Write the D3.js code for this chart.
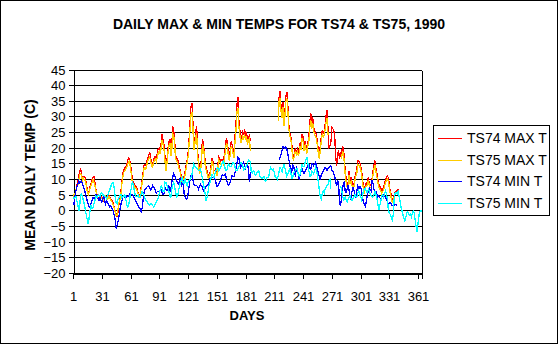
<!DOCTYPE html>
<html>
<head>
<meta charset="utf-8">
<script src="https://cdn.jsdelivr.net/npm/d3@7"></script>
<style>
  html, body { margin: 0; padding: 0; background: #fff; }
  svg { display: block; font-family: "Liberation Sans", Arial, sans-serif; }
</style>
</head>
<body>
<svg id="chart" width="559" height="345"></svg>
<script>
// Day of year, 1..365
const dayNumbers = d3.range(1, 366);
const tickDays = [1, 31, 61, 91, 121, 151, 181, 211, 241, 271, 301, 331, 361];
const yTicks = [-20, -15, -10, -5, 0, 5, 10, 15, 20, 25, 30, 35, 40, 45];

const seriesNames = ["TS74 MAX T", "TS75 MAX T", "TS74 MIN T", "TS75 MIN T"];
const seriesColors = ["#ff0000", "#ffcc00", "#0000ff", "#00ffff"];

// Daily maximum, station TS74 (deg C); null = no record
const ts74Max = [
  4.8, 4.5, 5.5, 6.1, 8.2, 8.9, 10.8, 12.7, 13.3, 11.4,
  10.1, 10.6, 10.8, 10.1, 8.4, 6.3, 5.5, 6.3, 7.9, 8.9,
  10.1, 10.7, 10.8, 8.7, 6.5, 5.0, 4.2, 3.6, 4.4, 4.7,
  4.2, 3.6, 3.1, 4.2, 4.7, 4.0, 3.8, 5.0, 4.6, 3.8,
  3.3, 3.0, 2.2, 1.1, -0.2, -1.1, -2.1, -0.4, 2.0, 3.8,
  5.8, 9.5, 11.7, 12.9, 13.7, 13.8, 14.6, 15.9, 16.8, 16.5,
  14.6, 12.5, 9.5, 9.0, 8.2, 7.9, 7.7, 6.5, 5.7, 5.0,
  4.2, 7.4, 9.5, 11.9, 14.3, 14.6, 14.4, 15.7, 16.8, 17.5,
  18.6, 16.8, 15.1, 14.5, 16.1, 17.2, 17.2, 16.6, 18.6, 19.7,
  19.9, 19.1, 21.8, 24.3, 22.4, 20.8, 16.8, 13.6, 16.0, 19.7,
  21.8, 22.9, 18.6, 20.2, 26.8, 25.6, 22.4, 17.5, 16.8, 16.5,
  15.1, 13.8, 12.7, 10.6, 9.7, 10.4, 10.8, 12.5, 14.3, 16.1,
  18.1, 22.4, 27.7, 33.0, 34.4, 28.8, 20.4, 22.4, 25.0, 26.8,
  18.6, 15.4, 12.9, 13.2, 17.0, 22.9, 21.1, 18.6, 15.1, 13.6,
  12.5, 11.2, 10.8, 12.2, 14.3, 16.8, 15.5, 12.7, 12.7, 13.2,
  11.9, 14.3, 17.0, 16.4, 15.9, 16.2, 16.1, 15.6, 18.1, 20.2,
  23.2, 21.8, 18.8, 16.8, 19.1, 21.8, 21.1, 19.4, 17.9, 24.0,
  27.7, 33.6, 36.3, 28.8, 25.6, 22.6, 23.6, 25.0, 24.0, 26.0,
  23.4, 25.0, 22.1, 23.4, 24.0, 22.0,
  null, null, null, null, null, null, null, null, null, null,
  null, null, null, null, null, null, null, null, null, null,
  null, null, null, null, null, null, null, null,
  29.8, 36.3, 38.2, 33.0, 30.9, 34.7, 28.2, 31.4, 36.3, 37.9,
  34.1, 27.7, 25.0, 24.0, 22.1, 17.9, 17.0, 18.6, 20.0, 18.6,
  19.6, 18.3, 19.7, 21.8, 20.4, 24.5, 23.4, 20.0, 22.1, 20.7,
  19.1, 21.8, 23.6, 28.2, 31.1, 27.7, 29.8, 26.6, 25.6, 24.9,
  24.0, 21.5, 19.1, 17.5, 21.1, 23.6, 25.6, 24.7, 25.4, 27.7,
  30.4, 32.0, 25.8, 20.2, 20.6, 21.8, 26.4, 26.1, 25.6, 23.6,
  17.0, 14.3, 18.1, 19.1, 16.4, 18.1, 17.5, 20.2, 19.9, 16.4,
  12.2, 10.1, 8.4, 9.0, 12.7, 9.7, 10.4, 9.0, 7.9, 8.4,
  10.4, 12.1, 12.9, 15.9, 15.7, 15.4, 14.3, 12.7, 10.1, 7.4,
  6.7, 8.4, 8.4, 9.3, 10.6, 8.7, 8.1, 8.2, 10.4, 12.7,
  14.6, 15.9, 13.3, 11.7, 10.1, 8.4, 7.7, 7.2, 6.3, 6.9,
  7.4, 8.7, 9.7, 10.8, 11.0, 10.4, 7.8, 6.1, 4.8, 3.3,
  3.8, 5.0, 5.7, 6.0, 6.3, 6.6, 6.8,
  null, null, null, null, null, null, null, null, null, null,
  null, null, null, null, null, null, null, null, null, null,
  null, null, null, null
];

// Daily maximum, station TS75 (deg C)
const ts75Max = [
  4.2, 5.0, 5.0, 6.5, 7.5, 8.0, 9.6, 11.5, 11.8, 11.0,
  9.5, 10.2, 9.8, 9.5, 7.6, 6.0, 5.0, 6.0, 7.4, 8.2,
  9.2, 9.8, 9.0, 7.8, 6.2, 4.6, 4.0, 3.4, 3.8, 4.2,
  4.0, 3.2, 3.4, 3.8, 4.4, 3.6, 3.5, 4.4, 4.2, 3.4,
  3.0, 2.5, 1.8, 0.6, -0.5, -1.6, -1.5, 0.4, 2.6, 3.4,
  5.2, 8.4, 10.6, 12.2, 12.6, 13.2, 13.6, 14.8, 15.4, 15.8,
  13.4, 11.0, 8.6, 8.4, 7.6, 7.2, 7.0, 6.0, 5.2, 4.6,
  4.8, 6.8, 8.6, 11.0, 13.2, 13.8, 13.2, 14.6, 15.6, 16.4,
  17.0, 15.8, 14.0, 13.8, 15.2, 16.0, 16.4, 15.6, 17.2, 18.4,
  18.8, 18.0, 20.2, 22.6, 21.0, 19.2, 15.6, 12.6, 15.0, 18.4,
  20.4, 21.6, 17.4, 19.0, 24.6, 24.0, 21.0, 16.4, 15.8, 15.4,
  14.0, 12.8, 12.0, 9.8, 9.0, 9.6, 10.2, 11.6, 13.4, 15.2,
  17.0, 21.0, 25.4, 30.6, 31.2, 27.0, 19.2, 21.0, 23.6, 24.6,
  17.4, 14.4, 12.0, 12.4, 16.0, 21.2, 20.0, 17.6, 14.0, 12.6,
  11.6, 10.4, 10.0, 11.4, 13.4, 15.6, 14.6, 11.8, 11.6, 12.4,
  11.0, 13.2, 16.0, 15.4, 14.8, 15.0, 15.2, 14.6, 17.0, 19.0,
  21.6, 20.4, 17.6, 15.8, 18.0, 20.4, 19.8, 18.2, 16.8, 22.0,
  25.6, 31.4, 32.6, 27.0, 24.2, 21.4, 22.4, 23.6, 22.8, 24.4,
  22.4, 23.6, 21.0, 22.2, 22.8, 19.0,
  null, null, null, null, null, null, null, null, null, null,
  null, null, null, null, null, null, null, null, null, null,
  null, null, null, null, null, null, null, null,
  28.4, 34.8, 36.0, 31.6, 29.6, 33.0, 27.0, 30.0, 34.6, 35.8,
  32.4, 26.4, 24.0, 22.8, 21.0, 17.0, 16.2, 17.6, 19.0, 17.8,
  18.6, 17.4, 18.6, 20.6, 19.4, 23.0, 22.0, 19.0, 21.0, 19.6,
  18.2, 20.6, 22.2, 26.4, 28.8, 26.0, 28.0, 25.2, 24.2, 23.6,
  22.8, 20.4, 18.0, 16.4, 19.8, 22.2, 24.2, 23.4, 24.0, 26.0,
  28.0, 29.6, 24.2,
  null, null, null, null, null, null, null, null, null, null,
  null, null, null,
  16.4, 18.6, 18.4, 15.2, 11.0, 9.0, 7.4, 8.0, 11.4, 8.6,
  9.4, 8.0, 7.0, 7.6, 9.4, 11.0, 11.8, 14.6, 14.4, 14.2,
  13.2, 11.6, 9.0, 6.4, 5.8, 7.4, 7.6, 8.2, 9.6, 7.8,
  7.2, 7.4, 9.4, 11.6, 13.4, 14.6, 12.2, 10.6, 9.0, 7.4,
  6.8, 6.2, 5.4, 6.0, 6.6, 7.8, 8.8, 9.8, 10.0, 9.4,
  7.0, 5.2, 3.8, 2.6, 3.2, 4.4,
  null, null, null, null, null, null, null, null, null, null,
  null, null, null, null, null, null, null, null, null, null,
  null, null, null, null, null, null, null, null, null
];

// Daily minimum, station TS74 (deg C)
const ts74Min = [
  2.0, 2.0, 4.4, 6.1, 7.4, 8.2, 9.5, 8.7, 9.0, 9.4,
  8.2, 7.4, 6.5, 5.2, 4.0, 2.8, 1.9, 1.1, 1.5, 2.3,
  3.4, 4.2, 3.6, 4.2, 5.2, 4.8, 3.8, 3.1, 4.2, 3.4,
  2.7, 3.6, 4.4, 3.1, 2.0, 2.9, 2.7, 1.9, 1.1, 1.5,
  1.1, 0.4, -0.3, -1.6, -3.0, -5.6, -4.9, -3.5, -1.9, 0.4,
  2.0, 3.1, 4.2, 4.5, 4.2, 3.8, 4.6, 4.4, 4.5, 5.2,
  4.8, 5.0, 5.1, 4.4, 3.8, 3.4, 2.7, 1.9, 1.3, 1.0,
  0.5, -0.5, 0.5, 3.1, 5.5, 6.5, 6.9, 7.4, 7.7, 7.8,
  7.4, 6.5, 6.8, 7.9, 7.5, 6.9, 6.3, 5.5, 6.1, 6.1,
  5.9, 6.7, 6.5, 5.5, 5.0, 5.5, 7.2, 6.8, 6.3, 7.4,
  7.9, 6.1, 6.3, 9.0, 10.6, 11.7, 11.0, 10.4, 9.3, 8.9,
  8.4, 9.5, 10.6, 7.6, 8.7, 9.1, 5.2, 4.2, 3.6, 3.8,
  5.2, 7.4, 9.7, 11.0, 11.7, 10.1, 8.4, 8.1, 7.9, 7.9,
  7.6, 6.8, 7.7, 8.4, 7.8, 7.3, 6.3, 5.9, 7.4, 7.6,
  7.9, 8.2, 9.1, 10.4, 10.6, 10.6, 10.6, 10.5, 9.8, 9.0,
  7.7, 7.8, 8.4, 9.1, 9.7, 11.0, 11.4, 11.2, 11.3, 11.7,
  10.1, 8.8, 8.1, 8.4, 8.9, 10.1, 11.2, 10.8, 10.8, 12.2,
  13.6, 15.1, 17.0, 16.6, 15.4, 13.8, 14.2, 14.7, 15.3, 14.2,
  13.4, 14.7, 14.9, 12.9, 9.0, 12.2,
  null, null, null, null, null, null, null, null, null, null,
  null, null, null, null, null, null, null, null, null, null,
  null, null, null, null, null, null, null, null, null,
  16.2, 16.8, 17.9, 19.1, 20.4, 20.2, 19.7, 20.2, 19.6, 18.1,
  16.4, 14.9, 12.9, 11.9, 14.5, 14.3, 12.7, 10.8, 13.8, 13.3,
  11.4, 9.7, 11.7, 12.7, 13.2, 12.5, 11.7, 12.4, 12.9, 13.8,
  14.2, 14.9, 13.5, 13.2, 14.9, 14.9, 14.3, 14.9, 15.3, 14.3,
  13.2, 11.9, 10.6, 10.1, 11.4, 12.1, 12.7, 13.0, 13.7, 13.4,
  12.7, 13.4, 13.8, 14.0, 14.2, 12.9, 12.4, 11.7, 10.8, 9.3,
  7.7, 9.7, 8.7, 2.3, 1.5, 3.7, 6.5, 8.7, 9.0, 5.8,
  5.8, 6.8, 8.2, 6.1, 4.2, 3.4, 6.1, 7.2, 6.5, 5.2,
  4.4, 6.1, 7.7, 6.9, 7.6, 7.4, 6.1, 4.0, 2.6, 1.9,
  1.3, 3.1, 5.0, 6.3, 7.2, 6.5, 6.1, 9.7, 8.4, 6.5,
  5.5, 6.1, 5.0, 4.3, 4.6, 4.0, 3.8, 4.2, 4.6, 5.0,
  4.8, 4.2, 3.4, 2.7, 2.0, 2.3, 2.5, 1.9, 1.6, 1.6,
  1.7, 2.0, 1.9, 1.6,
  null, null, null, null, null, null, null, null, null, null,
  null, null, null, null, null, null, null, null, null, null,
  null, null, null, null, null, null
];

// Daily minimum, station TS75 (deg C)
const ts75Min = [
  4.2, 3.8, 4.2, 4.4, 3.1, 1.9, -0.3, 1.6, 5.0, 5.2,
  4.2, 2.9, 1.8, 0.0, -1.7, -3.2, -4.4, -1.9, 0.2, 1.8,
  0.6, 0.9, 2.3, 3.4, 4.6, 4.2, 4.6, 5.0, 4.4, 5.2,
  5.5, 4.8, 5.0, 4.6, 4.2, 3.8, 4.6, 5.5, 6.3, 7.2,
  8.1, 8.9, 8.9, 7.2, 4.2, 2.3, 2.0, 3.5, 4.0, 4.7,
  5.0, 4.0, 4.2, 4.8, 5.0, 3.6, 1.9, 1.1, 1.6, 3.2,
  5.9, 7.4, 9.3, 7.9, 6.3, 4.8, 4.4, 4.6, 5.0, 4.0,
  4.2, 5.0, 6.1, 5.5, 4.7, 4.0, 3.2, 2.8, 2.4, 1.9,
  1.7, 2.3, 2.3, 1.6, 1.1, 1.5, 2.3, 2.8, 3.4, 4.2,
  5.5, 6.5, 7.8, 7.4, 5.9, 6.1, 9.0, 8.9, 7.9, 7.2,
  6.1, 4.4, 4.2, 6.8, 8.0, 8.9, 7.4, 6.1, 4.2, 4.4,
  6.1, 7.6, 9.0, 9.9, 10.4, 8.7, 8.7, 9.9, 8.9, 7.9,
  8.9, 9.5, 9.9, 10.4, 11.4, 13.2, 14.9, 14.2, 13.7, 13.4,
  13.0, 12.7, 13.0, 13.2, 11.7, 10.2, 8.4, 6.8, 4.8, 2.9,
  4.4, 6.3, 8.2, 9.1, 10.4, 11.5, 11.0, 10.6, 11.7, 12.5,
  13.4, 13.6, 12.7, 13.2, 13.8, 14.7, 15.5, 15.8, 14.3, 12.7,
  12.7, 13.2, 14.9, 14.7, 14.0, 14.2, 14.9, 15.2, 15.1, 13.8,
  12.7, 12.7, 13.2, 13.8, 14.7, 15.3, 15.0, 14.2, 12.9, 13.2,
  13.8, 14.5, 14.9, 16.2, 16.0, 15.4, 12.2, 12.0, 12.6, 12.3,
  11.2, 11.5, 12.0, 12.6, 12.3, 10.9, 10.4, 10.1, 10.6, 10.9,
  9.5, 9.3, 10.4, 10.6, 10.6, 12.3, 13.8, 13.2, 12.8, 13.2,
  12.1, 10.6, 10.4, 9.9, 11.0, 12.4, 13.6, 13.2, 12.3, 13.8,
  14.7, 13.6, 12.1, 10.9, 11.5, 12.3, 13.2, 12.7, 10.1, 10.1,
  12.0, 12.4, 12.7, 13.4, 13.3, 11.3, 10.9, 11.7, 13.3, 14.7,
  14.1, 14.0, 15.1, 16.4, 16.8, 15.1, 12.7, 11.0, 10.8, 12.5,
  12.2, 11.7, 12.7, 13.8, 13.0, 10.8, 9.0, 6.3, 4.2, 3.6,
  5.5, 6.1, 5.5, 6.8, 7.4, 7.9, 8.4, 9.5, 9.9, 6.8,
  null, null, null, null, null, null, null, null, null,
  7.9, 6.8, 5.2, 3.4, 3.7, 4.2, 3.1, 2.7, 3.5, 4.2,
  4.7, 3.8, 3.1, 3.9, 4.4, 5.0, 4.6, 4.2, 5.5, 6.3,
  5.2, 4.4, 3.4, 4.7, 6.3, 6.9, 7.2, 5.9, 5.8, 6.7,
  6.1, 5.2, 4.6, 4.2, 4.6, 5.0, 6.1, 5.0, 3.7, 2.0,
  0.2, 1.6, 3.0, 4.6, 4.9, 4.2, 5.5, 6.2, 5.2, 3.2,
  0.0, -0.9, -1.3, -2.4, -3.0, -1.3, 3.7, 5.5, 5.8, 5.2,
  6.1, 4.7, 3.0, 1.3, 0.0, -1.3, -2.4, -3.4, -2.4, -0.9,
  -0.5, -1.3, -1.5, -1.1, -2.0, -0.9, -0.2, -0.9, -3.4, -5.3,
  -6.8, -3.7, -1.3, -0.2, -0.1, -0.5
];

const seriesValues = [ts74Max, ts75Max, ts74Min, ts75Min];

// ---- layout ----
const W = 559, H = 345;
const plot = { left: 73, right: 422, top: 69.5, bottom: 273 };

const svg = d3.select("#chart");

// chart area frame
svg.append("rect")
  .attr("x", 0.5).attr("y", 0.5)
  .attr("width", W - 2).attr("height", H - 2)
  .attr("fill", "#fff").attr("stroke", "#000").attr("stroke-width", 1);

const x = d3.scaleLinear().domain([1, 365]).range([plot.left, plot.right]);
const y = d3.scaleLinear().domain([-20, 45]).range([plot.bottom, plot.top]);

// title
svg.append("text")
  .attr("x", 279).attr("y", 29)
  .attr("text-anchor", "middle")
  .attr("font-size", 14).attr("font-weight", "bold")
  .text("DAILY MAX & MIN TEMPS FOR TS74 & TS75, 1990");

// horizontal gridlines
svg.append("g")
  .selectAll("line")
  .data(yTicks)
  .join("line")
  .attr("x1", plot.left).attr("x2", plot.right)
  .attr("y1", d => Math.round(y(d)) + 0.5).attr("y2", d => Math.round(y(d)) + 0.5)
  .attr("stroke", "#000").attr("stroke-width", 1)
  .attr("shape-rendering", "crispEdges");

// plot frame (right edge)
svg.append("line")
  .attr("x1", plot.right + 0.5).attr("x2", plot.right + 0.5)
  .attr("y1", Math.round(y(45)) + 0.5).attr("y2", Math.round(y(-20)) + 0.5)
  .attr("stroke", "#000").attr("shape-rendering", "crispEdges");

// y axis
const yAxis = d3.axisLeft(y)
  .tickValues(yTicks)
  .tickSize(5)
  .tickPadding(3)
  .tickFormat(d3.format("d"));
const gy = svg.append("g")
  .attr("transform", `translate(${plot.left + 0.5},0)`)
  .call(yAxis);
gy.select(".domain").attr("stroke", "#000").attr("shape-rendering", "crispEdges");
gy.selectAll(".tick").attr("transform", d => `translate(0,${Math.round(y(d)) + 0.5})`);
gy.selectAll(".tick line").attr("stroke", "#000").attr("shape-rendering", "crispEdges");
gy.selectAll(".tick text")
  .attr("font-size", 13).attr("font-family", "Liberation Sans, Arial, sans-serif")
  .attr("fill", "#000").attr("dy", "0.36em");

// x axis
const xAxis = d3.axisBottom(x)
  .tickValues(tickDays)
  .tickSize(5)
  .tickPadding(13)
  .tickFormat(d3.format("d"));
const gx = svg.append("g")
  .attr("transform", `translate(0,${Math.round(y(-20)) + 0.5})`)
  .call(xAxis);
gx.select(".domain").attr("stroke", "#000").attr("shape-rendering", "crispEdges");
gx.selectAll(".tick").attr("transform", d => `translate(${Math.round(x(d)) + 0.5},0)`);
gx.selectAll(".tick line").attr("stroke", "#000").attr("shape-rendering", "crispEdges");
gx.selectAll(".tick text")
  .attr("font-size", 13).attr("font-family", "Liberation Sans, Arial, sans-serif")
  .attr("fill", "#000");

// axis titles
svg.append("text")
  .attr("x", 247).attr("y", 320)
  .attr("text-anchor", "middle")
  .attr("font-size", 13).attr("font-weight", "bold")
  .text("DAYS");

svg.append("text")
  .attr("transform", "translate(35,175) rotate(-90)")
  .attr("text-anchor", "middle")
  .attr("font-size", 14).attr("font-weight", "bold")
  .text("MEAN DAILY TEMP (C)");

// series lines, aliased one-pixel strokes
const line = d3.line()
  .defined(d => d.v !== null)
  .x(d => x(d.day))
  .y(d => y(d.v));

svg.append("g")
  .selectAll("path")
  .data(seriesValues.map((vals, i) => ({ color: seriesColors[i], pts: dayNumbers.map((day, j) => ({ day, v: vals[j] })) })))
  .join("path")
  .attr("d", s => line(s.pts))
  .attr("fill", "none")
  .attr("stroke", s => s.color)
  .attr("stroke-width", 1.3)
  .attr("stroke-linejoin", "miter")
  .attr("shape-rendering", "crispEdges");

// legend
const legend = svg.append("g");
legend.append("rect")
  .attr("x", 433.5).attr("y", 125.5)
  .attr("width", 116).attr("height", 90)
  .attr("fill", "#fff").attr("stroke", "#000")
  .attr("shape-rendering", "crispEdges");

const rows = legend.selectAll("g.row")
  .data(seriesNames.map((name, i) => ({ name, color: seriesColors[i], i })))
  .join("g")
  .attr("class", "row")
  .attr("transform", d => `translate(0,${138 + d.i * 21.7})`);
rows.append("line")
  .attr("x1", 438).attr("x2", 462)
  .attr("y1", 0.5).attr("y2", 0.5)
  .attr("stroke", d => d.color).attr("stroke-width", 1)
  .attr("shape-rendering", "crispEdges");
rows.append("text")
  .attr("x", 467).attr("y", 5)
  .attr("font-size", 14)
  .text(d => d.name);
</script>
</body>
</html>
